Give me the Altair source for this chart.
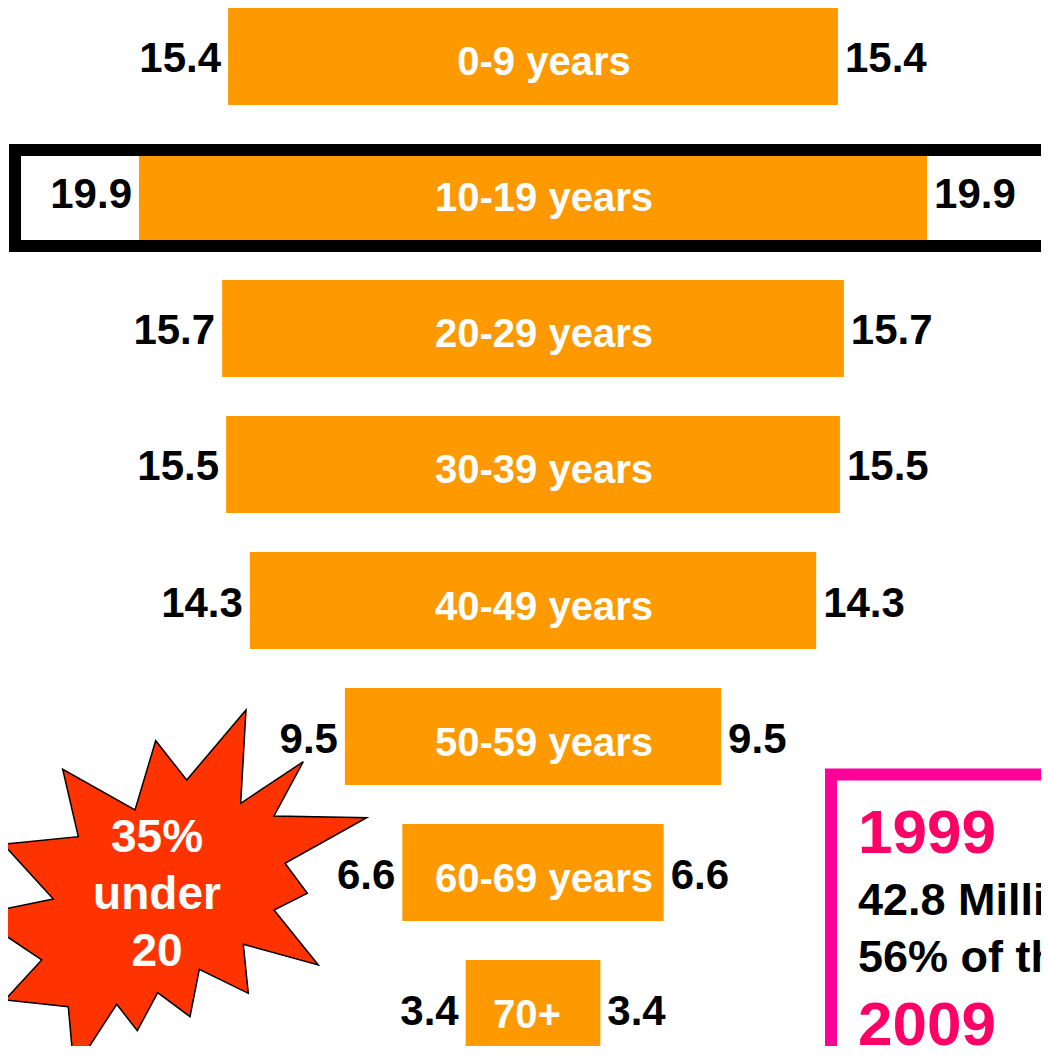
import altair as alt
import pandas as pd

# ---- data ----
categories = ["0-9 years", "10-19 years", "20-29 years", "30-39 years",
              "40-49 years", "50-59 years", "60-69 years", "70+"]
values = [15.4, 19.9, 15.7, 15.5, 14.3, 9.5, 6.6, 3.4]

burst_lines = ["35%", "under", "20"]
box_years = ["1999", "2009"]
box_lines = ["42.8 Million", "56% of the"]

df = pd.DataFrame({"cat": categories, "value": values})
one = pd.DataFrame({"a": [0]})

W, H = 1033, 1038
FONT = "Liberation Sans"
ORANGE = "#FF9900"

x_scale = alt.Scale(domain=[-13.258, 13.030], nice=False, zero=False, range=[0, 1041])
y_scale = alt.Scale(domain=categories, paddingInner=0.287, paddingOuter=0, range=[0, 1049])

base = alt.Chart(df).transform_calculate(lo="-datum.value/2", hi="datum.value/2")

Y = alt.Y("cat:N", scale=y_scale, axis=None, sort=categories)

bars = base.mark_bar(color=ORANGE).encode(
    x=alt.X("lo:Q", scale=x_scale, axis=None),
    x2="hi:Q",
    y=Y,
)

highlight = alt.Chart(one).mark_rect(
    fillOpacity=0, stroke="black", strokeWidth=12, clip=True
).encode(
    x=alt.value(7), x2=alt.value(1200), y=alt.value(142), y2=alt.value(238)
)

val_style = dict(font=FONT, fontSize=42, fontWeight="bold", color="black", dy=3)
left_lbl = base.mark_text(align="right", dx=-7, **val_style).encode(
    x=alt.X("lo:Q", scale=x_scale, axis=None),
    y=Y,
    text=alt.Text("value:Q", format=".1f"),
)
right_lbl = base.mark_text(align="left", dx=7, **val_style).encode(
    x=alt.X("hi:Q", scale=x_scale, axis=None),
    y=Y,
    text=alt.Text("value:Q", format=".1f"),
)

cat_style = dict(font=FONT, fontSize=40, fontWeight="bold", color="white", dy=7, align="center")
cat_lbl = base.transform_filter("datum.cat != '70+'").transform_calculate(mid="0").mark_text(
    dx=11, **cat_style
).encode(
    x=alt.X("mid:Q", scale=x_scale, axis=None),
    y=Y,
    text="cat:N",
)
cat_lbl2 = base.transform_filter("datum.cat == '70+'").transform_calculate(mid="0").mark_text(
    dx=-6, **cat_style
).encode(
    x=alt.X("mid:Q", scale=x_scale, axis=None),
    y=Y,
    text="cat:N",
)

# starburst outline (pixel offsets from its centre)
pts = [(86, -170), (80.7, -76.7), (143.3, -118.3), (114, -64), (206.7, -62.3),
       (125, -16.7), (147.3, 13.3), (114, 30), (158.3, 85), (83.3, 64.3),
       (88.3, 113.3), (39.3, 89.3), (30, 136.7), (-2.3, 112.7), (-22.7, 150.7),
       (-43.3, 124.3), (-86, 190), (-91.7, 126.7), (-155, 120), (-118.3, 80),
       (-185, 35), (-106.7, 19), (-156.7, -35.7), (-81.7, -43.3), (-97.3, -110.7),
       (-25, -70), (-4.3, -139.3), (26.7, -100)]
path = "M " + " L ".join(f"{x} {y}" for x, y in pts) + " Z"

burst = alt.Chart(one).mark_point(
    shape=path, size=4, filled=True, fill="#FF3300", stroke="black",
    strokeWidth=1.5, opacity=1, fillOpacity=1, strokeOpacity=1, clip=True
).encode(x=alt.value(152), y=alt.value(872))

burst_txt = alt.Chart(one).mark_text(
    font=FONT, fontSize=46, fontWeight="bold", color="white", align="center",
    baseline="alphabetic", lineHeight=57, text=burst_lines
).encode(x=alt.value(149), y=alt.value(844))

pink_box = alt.Chart(one).mark_rect(
    fillOpacity=0, stroke="#FF0099", strokeWidth=12, clip=True
).encode(x=alt.value(823), x2=alt.value(1300), y=alt.value(766.5), y2=alt.value(1300))

yr_style = dict(font=FONT, fontSize=62, fontWeight="bold", color="#FF0066",
                align="left", baseline="alphabetic", clip=True)
yr1 = alt.Chart(one).mark_text(text=box_years[0], **yr_style).encode(
    x=alt.value(850), y=alt.value(845))
yr2 = alt.Chart(one).mark_text(text=box_years[1], **yr_style).encode(
    x=alt.value(850), y=alt.value(1037))
ln_style = dict(font=FONT, fontSize=45, fontWeight="bold", color="black",
                align="left", baseline="alphabetic", clip=True)
ln1 = alt.Chart(one).mark_text(text=box_lines[0], **ln_style).encode(
    x=alt.value(850), y=alt.value(907))
ln2 = alt.Chart(one).mark_text(text=box_lines[1], **ln_style).encode(
    x=alt.value(850), y=alt.value(964))

chart = alt.layer(
    bars, highlight, left_lbl, right_lbl, cat_lbl, cat_lbl2,
    burst, burst_txt, pink_box, yr1, yr2, ln1, ln2
).properties(
    width=W, height=H, padding=0, autosize=alt.AutoSizeParams(type="none"),
    background="white"
).configure_view(stroke=None)

chart.save("out.html", embed_options={"renderer": "svg", "actions": False})
